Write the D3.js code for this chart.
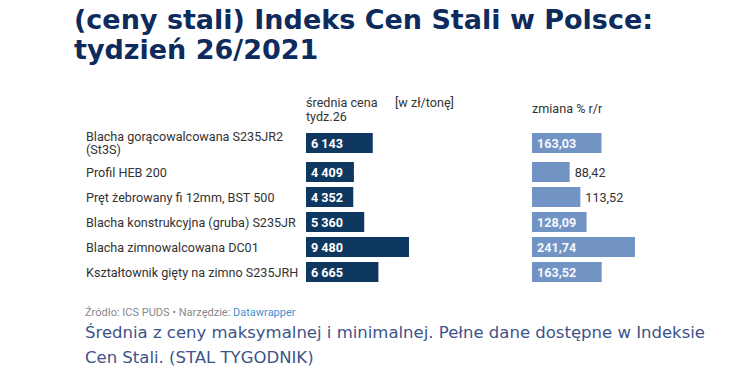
<!DOCTYPE html>
<html><head><meta charset="utf-8">
<script src="https://cdn.jsdelivr.net/npm/d3@7"></script>
<style>
html,body{margin:0;padding:0;background:#fff;}
</style></head>
<body>
<svg id="chart" width="750" height="381"></svg>
<script>
const titleLines = ["(ceny stali) Indeks Cen Stali w Polsce:", "tydzień 26/2021"];
const categories = [
  ["Blacha gorącowalcowana S235JR2", "(St3S)"],
  ["Profil HEB 200"],
  ["Pręt żebrowany fi 12mm, BST 500"],
  ["Blacha konstrukcyjna (gruba) S235JR"],
  ["Blacha zimnowalcowana DC01"],
  ["Kształtownik gięty na zimno S235JRH"]
];
const priceValues = [6143, 4409, 4352, 5360, 9480, 6665];
const changeValues = [163.03, 88.42, 113.52, 128.09, 241.74, 163.52];
const priceHeader = ["średnia cena", "tydz.26"];
const unitHeader = "[w zł/tonę]";
const changeHeader = "zmiana % r/r";
const sourceText = "Źródło: ICS PUDS • Narzędzie: ";
const toolText = "Datawrapper";
const noteLines = ["Średnia z ceny maksymalnej i minimalnej. Pełne dane dostępne w Indeksie", "Cen Stali. (STAL TYGODNIK)"];

const svg = d3.select("#chart");
svg.append("rect").attr("width", 750).attr("height", 381).attr("fill", "#fff");

const font = "Roboto, 'Liberation Sans', Arial, sans-serif";
const fs = 12.6;

// Title
const title = svg.append("text")
  .attr("font-family", "'DejaVu Sans', sans-serif")
  .attr("font-weight", "bold").attr("font-size", 27)
  .attr("fill", "#0d2b5c");
titleLines.forEach((t, i) => {
  title.append("tspan").attr("x", 74).attr("y", 29 + i * 30).text(t);
});

// Headers
const hdr = svg.append("g").attr("font-family", font).attr("font-size", fs).attr("fill", "#333");
priceHeader.forEach((t, i) => hdr.append("text").attr("x", 306).attr("y", 107 + i * 13.5).text(t));
hdr.append("text").attr("x", 395).attr("y", 107).text(unitHeader);
hdr.append("text").attr("x", 532).attr("y", 113).text(changeHeader);

// Rows layout
const barH = 20, pitch = 25, lineH = 13.5;
let tops = [];
let cur = 133;
categories.forEach((c, i) => {
  tops.push(cur);
  cur += pitch + (c.length - 1) * 4;
});

const xPrice = d3.scaleLinear().domain([0, d3.max(priceValues)]).range([0, 103]);
const xChange = d3.scaleLinear().domain([0, d3.max(changeValues)]).range([0, 103]);
const col1 = 306, col2 = 532;

const rows = svg.append("g");
categories.forEach((lines, i) => {
  const cy = tops[i] + barH / 2;
  const lab = rows.append("text").attr("font-family", font).attr("font-size", fs).attr("fill", "#333");
  const n = lines.length;
  lines.forEach((l, j) => {
    lab.append("tspan").attr("x", 86)
      .attr("y", cy + (j - (n - 1) / 2) * lineH + 4.5).text(l);
  });
});

function drawCol(vals, scale, x0, color, fmt, insideColor) {
  const g = svg.append("g");
  g.selectAll("rect").data(vals).join("rect")
    .attr("x", x0).attr("y", (d, i) => tops[i])
    .attr("width", d => scale(d)).attr("height", barH)
    .attr("fill", color);
  vals.forEach((d, i) => {
    const t = g.append("text").attr("font-family", font).attr("font-size", fs)
      .attr("y", tops[i] + barH / 2 + 4.5).text(fmt(d));
    t.attr("font-weight", "bold");
    const w = t.node().getComputedTextLength();
    if (w + 12 <= scale(d)) {
      t.attr("x", x0 + 5).attr("fill", insideColor);
    } else {
      t.attr("font-weight", "normal");
      t.attr("x", x0 + scale(d) + 5).attr("fill", "#333");
    }
  });
}
const fmtPrice = d => d3.format(",")(d).replace(/,/g, " ");
const fmtChange = d => d3.format(".2f")(d).replace(".", ",");
drawCol(priceValues, xPrice, col1, "#0f3861", fmtPrice, "#fff");
drawCol(changeValues, xChange, col2, "#7194c5", fmtChange, "#f4f7fc");

// Footer
const foot = svg.append("text").attr("x", 85).attr("y", 316)
  .attr("font-family", font).attr("font-size", 11).attr("fill", "#888");
foot.append("tspan").text(sourceText);
foot.append("tspan").attr("fill", "#3f92d2").text(toolText);

const note = svg.append("g").attr("font-family", "'DejaVu Sans', sans-serif")
  .attr("font-size", 15).attr("fill", "#3d5389");
const noteEls = noteLines.map((t, i) => note.append("text").attr("x", 85).attr("y", 338 + i * 25).text(t));
// fit the note's first line to the original's width
const w0 = noteEls[0].node().getComputedTextLength();
note.attr("font-size", 15 * 620 / w0);
</script>
</body></html>
